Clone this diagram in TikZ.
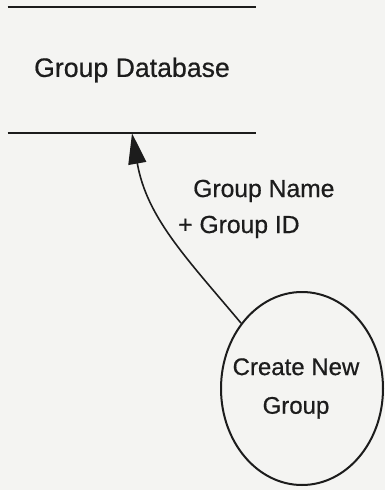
\documentclass[tikz,border=0pt]{standalone}
\usepackage{fontspec}
\newfontfamily\inkfont{Liberation Sans}[FakeBold=0.6]
\usetikzlibrary{shapes.geometric,arrows.meta}
\definecolor{paper}{RGB}{244,244,242}
\definecolor{ink}{RGB}{28,28,28}
\begin{document}
\begin{tikzpicture}[x=0.75pt,y=-0.75pt,
  store/.style={minimum width=186pt,minimum height=94.5pt,inner sep=0pt,
    text=ink,font=\inkfont\fontsize{20}{22}\selectfont},
  process/.style={ellipse,draw=ink,line width=1.5pt,minimum width=121.5pt,
    minimum height=144.75pt,inner sep=0pt},
  proclabel/.style={align=center,text=ink,inner sep=0pt,
    font=\inkfont\fontsize{18}{29}\selectfont},
  flowlabel/.style={font=\inkfont\fontsize{18.5}{21}\selectfont,inner sep=0pt,
    anchor=base west,text=ink},
  flow/.style={draw=ink,line width=1.2pt,-{Triangle[length=23pt,width=13.5pt]}},
  rule/.style={draw=ink,line width=1.5pt}]
% paper and page frame
\fill[paper] (0,0) rectangle (385,490);
\useasboundingbox (0,0) rectangle (385,490);
% data store: text between two horizontal rules
\node[store] (db) at (132,70) {Group Database};
\draw[rule] (db.north west) -- (db.north east);
\draw[rule] (db.south west) -- (db.south east);
% process bubble and its name
\node[process] (proc) at (302,388.5) {};
\node[proclabel] (proctext) at ([xshift=-4.5pt]proc.center) {Create New\\Group};
% data flow from the process into the store
\draw[flow] (proc.133) to[out=130,in=-80] (db.south);
\node[flowlabel] (l1) at (193,197) {Group Name};
\node[flowlabel] (l2) at (178,233) {+ Group ID};
\end{tikzpicture}
\end{document}
